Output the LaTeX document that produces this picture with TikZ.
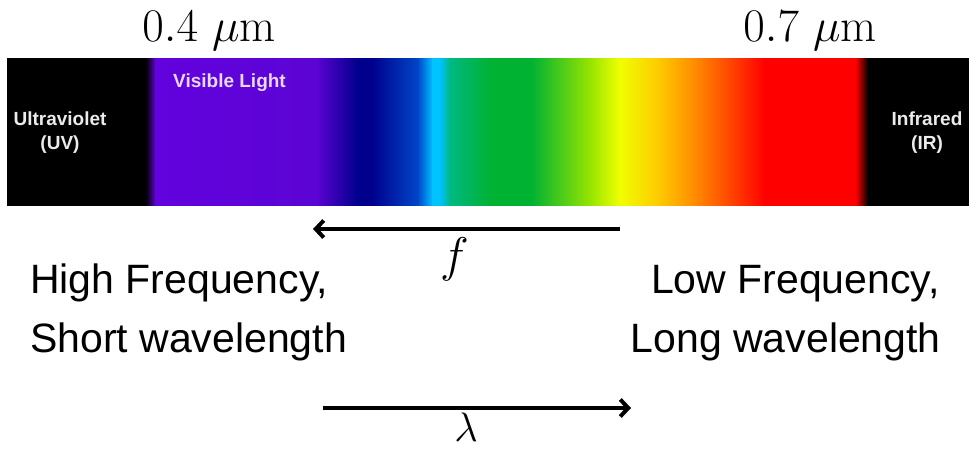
\documentclass[tikz,border=0pt]{standalone}
\usepackage{fontspec}
\newfontfamily\arial{Liberation Sans}
\usetikzlibrary{arrows.meta}
\definecolor{vio}{RGB}{98,2,222}
\definecolor{vio2}{RGB}{92,4,212}
\definecolor{navy}{RGB}{0,0,140}
\definecolor{blu}{RGB}{0,70,200}
\definecolor{cya}{RGB}{0,195,255}
\definecolor{teal2}{RGB}{0,185,130}
\definecolor{grn}{RGB}{0,178,50}
\definecolor{ygrn}{RGB}{150,228,0}
\definecolor{yel}{RGB}{240,255,0}
\definecolor{yor}{RGB}{255,200,0}
\definecolor{ora}{RGB}{255,130,0}
\definecolor{red2}{RGB}{255,0,0}
\definecolor{lav}{RGB}{232,215,255}
\definecolor{wht}{RGB}{235,235,235}
\tikzset{
  bartext/.style={font=\arial\bfseries\fontsize{19}{22}\selectfont, text=wht, inner sep=0pt},
  bodytext/.style={font=\arial\fontsize{41}{48}\selectfont, inner sep=0pt},
  mathlabel/.style={font=\fontsize{24.88}{30}\selectfont, inner sep=0pt, scale=1.88, transform shape},
  dirarrow/.style={line width=4pt, -{Straight Barb[length=8pt,width=17pt]}}
}
\newcommand{\band}[4]{\shade[left color=#3, right color=#4] (#1,59) rectangle (#2,205);}
\begin{document}
\begin{tikzpicture}[x=1pt,y=-1pt]
\useasboundingbox (0,0) rectangle (969,452);
\fill[white] (0,0) rectangle (969,452);
% spectrum bar
\band{7}{146}{black}{black}
\band{145.5}{156}{black}{vio}
\band{155.5}{316}{vio}{vio2}
\band{315.5}{358}{vio2}{navy}
\band{357.5}{372}{navy}{navy}
\band{371.5}{418}{navy}{blu}
\band{417.5}{433}{blu}{cya}
\band{432.5}{440}{cya}{cya}
\band{439.5}{450}{cya}{teal2}
\band{449.5}{490}{teal2}{grn}
\band{489.5}{532}{grn}{grn}
\band{531.5}{590}{grn}{ygrn}
\band{589.5}{620}{ygrn}{yel}
\band{619.5}{660}{yel}{yor}
\band{659.5}{700}{yor}{ora}
\band{699.5}{765}{ora}{red2}
\band{764.5}{856}{red2}{red2}
\band{855.5}{868}{red2}{black}
\band{867.5}{969}{black}{black}
% labels inside bar
\node[bartext, text=lav, anchor=base west] (vis) at (173,88) {Visible Light};
\node[bartext, anchor=base] (uv1) at (60,125) {Ultraviolet};
\node[bartext, anchor=base] (uv2) at (60,149) {(UV)};
\node[bartext, anchor=base] (ir1) at (927,125) {Infrared};
\node[bartext, anchor=base] (ir2) at (927,149) {(IR)};
% wavelength marks
\node[mathlabel, anchor=base west] (w4) at (142,42) {$0.4~\mu\mathrm{m}$};
\node[mathlabel, anchor=base west] (w7) at (743,42) {$0.7~\mu\mathrm{m}$};
% descriptions
\node[bodytext, anchor=base west] (hf) at (30,293) {High Frequency,};
\node[bodytext, anchor=base west] (sw) at (30,352) {Short wavelength};
\node[bodytext, anchor=base east] (lf) at (940,293) {Low Frequency,};
\node[bodytext, anchor=base east] (lw) at (941,352) {Long wavelength};
% arrows
\coordinate (fR) at (620,229);
\coordinate (fL) at (313,229);
\draw[dirarrow] (fR) -- (fL);
\node[mathlabel, scale=1.04, anchor=base] (f) at (455,271) {$f$};
\coordinate (lL) at (323,408);
\coordinate (lR) at (631,408);
\draw[dirarrow] (lL) -- (lR);
\node[mathlabel, scale=0.88, anchor=base] (lam) at (466,441) {$\lambda$};
\end{tikzpicture}
\end{document}
